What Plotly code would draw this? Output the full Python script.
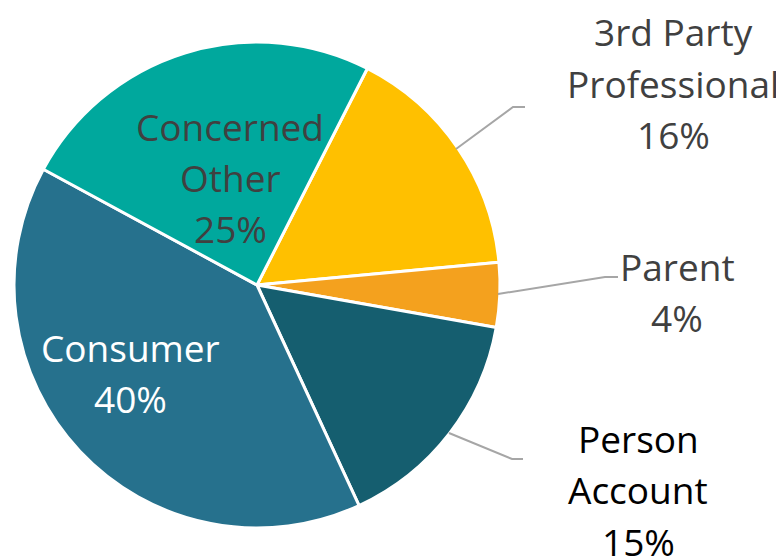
import plotly.graph_objects as go

labels = ["3rd Party Professional", "Parent", "Person Account", "Consumer", "Concerned Other"]
values = [16.0, 4.3, 15.3, 39.8, 24.6]
colors = ["#FFC000", "#F4A11E", "#155E6F", "#26718D", "#00A89D"]
label_names = [["3rd Party", "Professional"], ["Parent"], ["Person", "Account"],
               ["Consumer"], ["Concerned", "Other"]]
label_colors = ["#404040", "#404040", "#000000", "#FFFFFF", "#404040"]
# label centres (x, y of first line) in reference pixels
label_pos = [(673, 32), (677, 266), (638, 438), (130, 347), (230, 126)]
line_gap = 51.5
leader_lines = [[(456, 149), (513, 107), (525, 107)],
                [(498, 294), (605, 277), (618, 277)],
                [(449, 433), (512, 459), (523, 459)]]

OFF = 8  # page body margin
W, H = 784 - OFF, 556 - OFF
R = 243
cx, cy = 257 - OFF, 285 - OFF


def px(x, y):
    return (x - OFF) / W, 1 - (y - OFF) / H


total = sum(values)
fig = go.Figure(go.Pie(
    labels=labels, values=values, sort=False, direction="clockwise", rotation=27,
    marker=dict(colors=colors, line=dict(color="white", width=3)),
    textinfo="none", hoverinfo="label+percent", showlegend=False,
    domain=dict(x=[(cx - R) / W, (cx + R) / W], y=[(H - cy - R) / H, (H - cy + R) / H]),
))

for names, v, col, (x, y) in zip(label_names, values, label_colors, label_pos):
    lines = names + [f"{round(100 * v / total)}%"]
    for i, t in enumerate(lines):
        ax, ay = px(x, y + i * line_gap)
        fig.add_annotation(x=ax, y=ay, xref="paper", yref="paper", text=t,
                           showarrow=False, xanchor="center", yanchor="middle",
                           font=dict(family="Open Sans", size=37, color=col))

for pts in leader_lines:
    path = "M " + " L ".join("{},{}".format(*px(x, y)) for x, y in pts)
    fig.add_shape(type="path", path=path, xref="paper", yref="paper",
                  line=dict(color="#A6A6A6", width=2))

fig.update_layout(width=W, height=H, margin=dict(l=0, r=0, t=0, b=0),
                  paper_bgcolor="white", plot_bgcolor="white")
fig.write_html("out.html")
